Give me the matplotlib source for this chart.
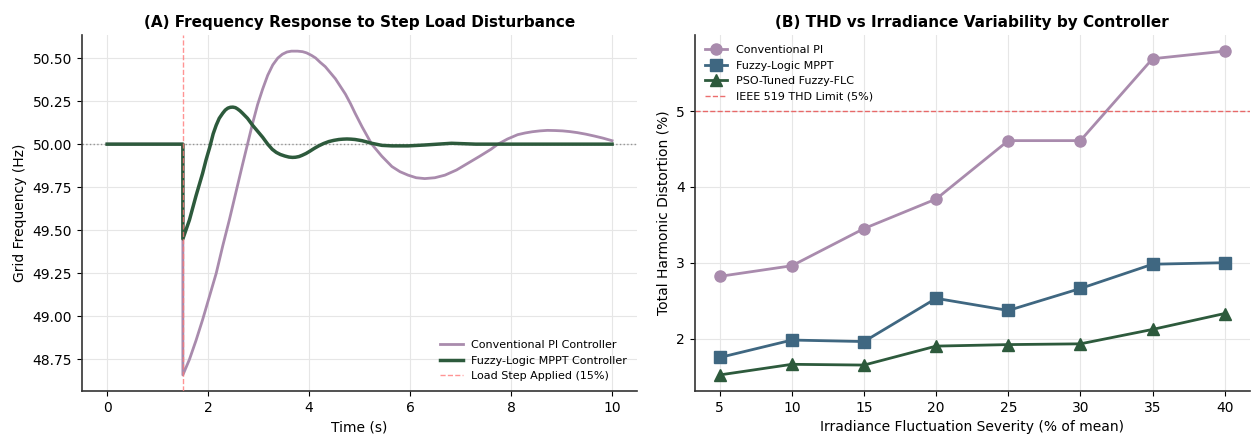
import matplotlib
matplotlib.use("Agg")
import matplotlib.pyplot as plt
from matplotlib.ticker import FormatStrFormatter

# ---- Panel A data ----
t_pi = [0.0, 1.5, 1.5, 1.63, 1.76, 1.89, 2.03, 2.16, 2.29, 2.42, 2.55, 2.68, 2.78, 2.88, 2.98,
        3.08, 3.18, 3.28, 3.38, 3.47, 3.56, 3.65, 3.77, 3.87, 3.95, 4.05, 4.13, 4.22, 4.32, 4.42, 4.52,
        4.62, 4.72, 4.82, 4.91, 5.05, 5.24, 5.44, 5.64,
        5.80, 5.96, 6.12, 6.29, 6.49, 6.69, 6.92, 7.15, 7.38, 7.6, 7.74, 7.93, 8.13, 8.28, 8.42,
        8.57, 8.72, 8.87, 9.02, 9.16, 9.31, 9.48, 9.65, 9.82, 10.0]
f_pi = [50.0, 50.0, 48.66, 48.75, 48.86, 48.98, 49.12, 49.25, 49.41, 49.56, 49.72, 49.88, 50.0, 50.12, 50.23,
        50.32, 50.40, 50.46, 50.50, 50.522, 50.535, 50.54, 50.54, 50.537, 50.53, 50.515, 50.50, 50.475, 50.45, 50.415, 50.38,
        50.335, 50.29, 50.235, 50.18, 50.10, 50.00, 49.93, 49.87,
        49.84, 49.82, 49.805, 49.80, 49.805, 49.82, 49.85, 49.89, 49.93, 49.97, 50.0, 50.03, 50.055, 50.065, 50.072,
        50.077, 50.08, 50.079, 50.077, 50.073, 50.067, 50.058, 50.047, 50.035, 50.02]

t_fz = [0.0, 1.5, 1.5, 1.63, 1.76, 1.89, 1.96, 2.03, 2.10, 2.16, 2.22, 2.29, 2.34, 2.39, 2.44, 2.49, 2.54,
        2.58, 2.63, 2.68, 2.78, 2.88, 2.98,
        3.08, 3.18, 3.27, 3.35, 3.43, 3.52, 3.60, 3.67, 3.73, 3.80, 3.86, 3.94, 4.02, 4.10, 4.19, 4.29, 4.39,
        4.49, 4.59, 4.67, 4.75, 4.83, 4.91, 5.05, 5.24,
        5.44, 5.64, 5.96, 6.29, 6.55, 6.82, 7.3, 8.0, 9.0, 10.0]
f_fz = [50.0, 50.0, 49.45, 49.56, 49.70, 49.83, 49.91, 49.98, 50.06, 50.11, 50.15, 50.18, 50.198, 50.209, 50.214, 50.215, 50.212,
        50.205, 50.194, 50.18, 50.15, 50.11, 50.075,
        50.04, 50.0, 49.97, 49.952, 49.94, 49.931, 49.925, 49.923, 49.924, 49.928, 49.935, 49.946, 49.96, 49.975, 49.99, 50.004, 50.015,
        50.022, 50.027, 50.029, 50.03, 50.029, 50.027, 50.02, 50.005,
        49.993, 49.99, 49.99, 49.995, 50.0, 50.005, 50.0, 50.0, 50.0, 50.0]

step_time = 1.5
nominal_freq = 50.0

# ---- Panel B data ----
severity = [5, 10, 15, 20, 25, 30, 35, 40]
thd_pi = [2.82, 2.96, 3.45, 3.84, 4.61, 4.61, 5.69, 5.79]
thd_fuzzy = [1.75, 1.98, 1.96, 2.53, 2.37, 2.66, 2.98, 3.00]
thd_pso = [1.52, 1.66, 1.65, 1.90, 1.92, 1.93, 2.12, 2.33]
ieee_limit = 5.0

c_pi = "#a98bad"
c_fz = "#2d5a3c"
c_mppt = "#3f6781"

fig, (ax1, ax2) = plt.subplots(1, 2, figsize=(12.6, 4.37), dpi=100)
fig.subplots_adjust(left=0.065, right=0.992, top=0.92, bottom=0.105, wspace=0.103)

# Panel A
ax1.plot(t_pi, f_pi, color=c_pi, lw=2.0, label="Conventional PI Controller", zorder=3)
ax1.plot(t_fz, f_fz, color=c_fz, lw=2.5, label="Fuzzy-Logic MPPT Controller", zorder=4)
ax1.axvline(step_time, color="#ff7a7a", ls="--", lw=1.0, alpha=0.8, label="Load Step Applied (15%)", zorder=5)
ax1.axhline(nominal_freq, color="gray", ls=":", lw=1.0, alpha=0.8, zorder=2)
ax1.set_title("(A) Frequency Response to Step Load Disturbance", fontsize=11, fontweight="bold")
ax1.set_xlabel("Time (s)", fontsize=10)
ax1.set_ylabel("Grid Frequency (Hz)", fontsize=10)
ax1.set_yticks([48.75, 49.0, 49.25, 49.5, 49.75, 50.0, 50.25, 50.5])
ax1.yaxis.set_major_formatter(FormatStrFormatter("%.2f"))
ax1.grid(True, color="#e6e6e6", lw=0.8)
ax1.legend(loc="lower right", fontsize=8, frameon=False)

# Panel B
ax2.plot(severity, thd_pi, color=c_pi, marker="o", ms=8, lw=2.0, label="Conventional PI")
ax2.plot(severity, thd_fuzzy, color=c_mppt, marker="s", ms=8, lw=2.0, label="Fuzzy-Logic MPPT")
ax2.plot(severity, thd_pso, color=c_fz, marker="^", ms=8, lw=2.0, label="PSO-Tuned Fuzzy-FLC")
ax2.axhline(ieee_limit, color="#e84a4a", ls="--", lw=1.0, alpha=0.8, label="IEEE 519 THD Limit (5%)")
ax2.set_title("(B) THD vs Irradiance Variability by Controller", fontsize=11, fontweight="bold")
ax2.set_xlabel("Irradiance Fluctuation Severity (% of mean)", fontsize=10)
ax2.set_ylabel("Total Harmonic Distortion (%)", fontsize=10)
ax2.set_xticks(severity)
ax2.set_yticks([2, 3, 4, 5])
ax2.grid(True, color="#e6e6e6", lw=0.8)
ax2.legend(loc="upper left", fontsize=8, frameon=False)

for ax in (ax1, ax2):
    ax.spines["top"].set_visible(False)
    ax.spines["right"].set_visible(False)
    ax.spines["left"].set_color("#333333")
    ax.spines["bottom"].set_color("#333333")
    ax.spines["left"].set_linewidth(1.2)
    ax.spines["bottom"].set_linewidth(1.2)
    ax.tick_params(labelsize=10)

fig.savefig("out.png", dpi=100)
